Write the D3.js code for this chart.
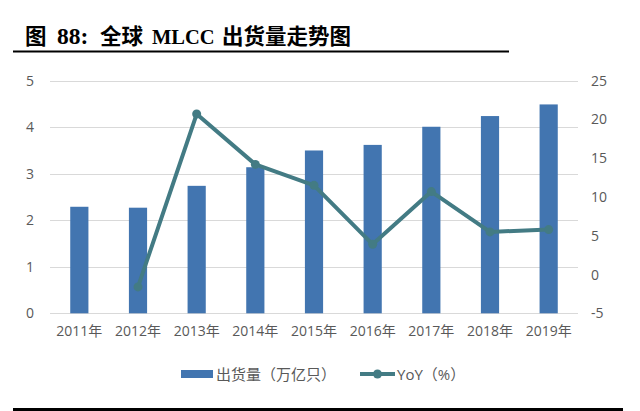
<!DOCTYPE html>
<html><head><meta charset="utf-8">
<script src="https://cdn.jsdelivr.net/npm/d3@7"></script>
<style>body{margin:0;background:#fff;} svg{display:block;}</style>
</head><body>
<svg id="c" width="640" height="411"></svg>
<script>
const categories = ["2011年","2012年","2013年","2014年","2015年","2016年","2017年","2018年","2019年"];
const shipments = [2.29, 2.27, 2.74, 3.14, 3.50, 3.62, 4.01, 4.24, 4.49];
const yoy = [null, -1.6, 20.7, 14.2, 11.5, 3.9, 10.7, 5.5, 5.8];
const leftTicks = [0,1,2,3,4,5];
const rightTicks = [-5,0,5,10,15,20,25];
const titleParts = [["图",25,21.5],["88:",57,23.5],["全球",100,21.5],["MLCC",152,20.5],["出货量走势图",222,21.5]];
const legendBar = "出货量（万亿只）";
const legendLine = "YoY（%）";

const svg = d3.select("#c");
const barColor = "#4275b0", lineColor = "#437b84";
const tickFont = "'Open Sans','Noto Sans CJK SC',sans-serif";

const t = svg.append("text").attr("y",44)
  .attr("font-family","'Liberation Serif','Noto Sans CJK SC',serif").attr("font-weight","bold").attr("fill","#000");
titleParts.forEach(p=>t.append("tspan").attr("x",p[1]).attr("font-size",p[2]).text(p[0]));
svg.append("line").attr("x1",13).attr("x2",509).attr("y1",51.5).attr("y2",51.5).attr("stroke","#000").attr("stroke-width",2);
svg.append("line").attr("x1",13).attr("x2",623).attr("y1",409.5).attr("y2",409.5).attr("stroke","#000").attr("stroke-width",3);

const x = d3.scaleBand().domain(categories).range([50,578]).paddingInner(0.69).paddingOuter(0.345);
const yL = d3.scaleLinear().domain([0,5]).range([313.3,80.7]);
const yR = d3.scaleLinear().domain([-5,25]).range([313.3,80.7]);

svg.append("g").selectAll("line").data(leftTicks).join("line")
  .attr("x1",50).attr("x2",578).attr("y1",d=>Math.round(yL(d))+0.5).attr("y2",d=>Math.round(yL(d))+0.5)
  .attr("stroke","#d9d9d9").attr("stroke-width",1);

const gl = svg.append("g").attr("transform","translate(34,0)")
  .call(d3.axisLeft(yL).tickValues(leftTicks).tickFormat(d3.format("d")).tickSize(0).tickPadding(0));
gl.select(".domain").remove();
gl.selectAll("text").attr("font-family",tickFont).attr("font-size",14).attr("fill","#595959");

const gr = svg.append("g").attr("transform","translate(591,0)")
  .call(d3.axisRight(yR).tickValues(rightTicks).tickFormat(d=>String(d)).tickSize(0).tickPadding(0));
gr.select(".domain").remove();
gr.selectAll("text").attr("font-family",tickFont).attr("font-size",14).attr("fill","#595959");

const gb = svg.append("g").attr("transform","translate(0,326)")
  .call(d3.axisBottom(x).tickSize(0).tickPadding(0));
gb.select(".domain").remove();
gb.selectAll("text").attr("font-family",tickFont).attr("font-size",14).attr("fill","#595959").attr("dy","0.71em");

svg.append("g").selectAll("rect").data(shipments).join("rect")
  .attr("x",(d,i)=>x(categories[i])).attr("width",x.bandwidth())
  .attr("y",d=>yL(d)).attr("height",d=>yL(0)-yL(d)).attr("fill",barColor);

const pts = yoy.map((v,i)=>({c:categories[i],v})).filter(d=>d.v!==null);
const line = d3.line().x(d=>x(d.c)+x.bandwidth()/2).y(d=>yR(d.v));
svg.append("path").datum(pts).attr("d",line).attr("fill","none").attr("stroke",lineColor)
  .attr("stroke-width",4).attr("stroke-linejoin","round").attr("stroke-linecap","round");
svg.append("g").selectAll("circle").data(pts).join("circle")
  .attr("cx",d=>x(d.c)+x.bandwidth()/2).attr("cy",d=>yR(d.v)).attr("r",4.5).attr("fill",lineColor);

const lg = svg.append("g").attr("font-family",tickFont).attr("font-size",15).attr("fill","#595959");
lg.append("rect").attr("x",181).attr("y",370).attr("width",32).attr("height",8).attr("fill",barColor);
lg.append("text").attr("x",216).attr("y",379.5).text(legendBar);
lg.append("line").attr("x1",360).attr("x2",395).attr("y1",374).attr("y2",374).attr("stroke",lineColor).attr("stroke-width",4);
lg.append("circle").attr("cx",377.5).attr("cy",374).attr("r",4.5).attr("fill",lineColor);
lg.append("text").attr("x",397).attr("y",379.5).text(legendLine);
</script>
</body></html>
